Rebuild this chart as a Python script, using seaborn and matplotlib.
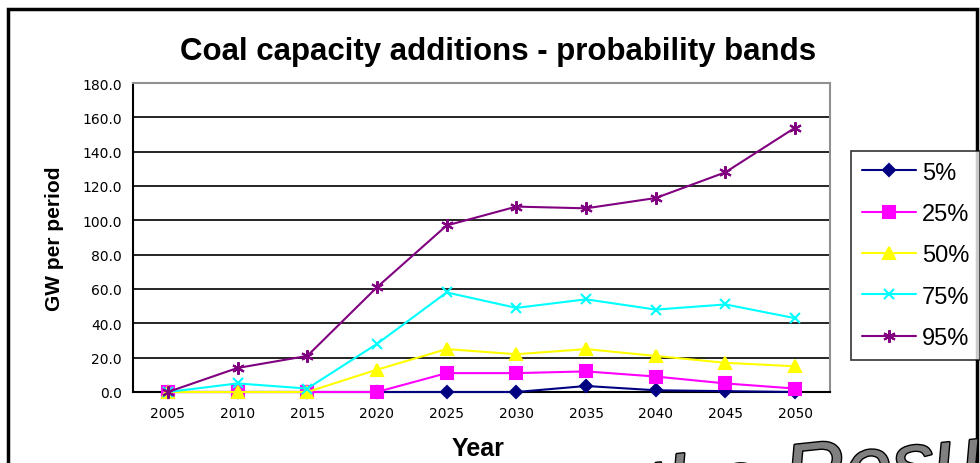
import numpy as np
import pandas as pd
import matplotlib.pyplot as plt
import matplotlib.patheffects as pe
from matplotlib.patches import Rectangle
import seaborn as sns

# Dados
years = ['2005', '2010', '2015', '2020', '2025', '2030', '2035', '2040', '2045', '2050']
p5 = [0, 0, 0, 0, 0, 0, 3.5, 1, 0.5, 0]
p25 = [0, 0, 0, 0, 11, 11, 12, 9, 5, 2]
p50 = [0, 0, 0, 13, 25, 22, 25, 21, 17, 15]
p75 = [0, 5, 2, 28, 58, 49, 54, 48, 51, 43]
p95 = [0, 14, 21, 61, 97, 108, 107, 113, 128, 154]
band_names = ['5%', '25%', '50%', '75%', '95%']
yticks = np.arange(0, 181, 20)

series = {'5%': p5, '25%': p25, '50%': p50, '75%': p75, '95%': p95}
rows = []
for name in band_names:
    for i, v in enumerate(series[name]):
        rows.append({'pos': i, 'value': v, 'band': name})
df = pd.DataFrame(rows)

colors = {'5%': '#000080', '25%': '#FF00FF', '50%': '#FFFF00', '75%': '#00FFFF', '95%': '#800080'}
markers = {'5%': 'D', '25%': 's', '50%': '^', '75%': 'x', '95%': (6, 2, 0)}
msizes = {'5%': 6, '25%': 8, '50%': 8, '75%': 7, '95%': 9}

sns.set_style('white')
plt.rcParams['font.family'] = ['Liberation Sans', 'DejaVu Sans']
for key in ['text.color', 'axes.labelcolor', 'xtick.color', 'ytick.color']:
    plt.rcParams[key] = 'black'

fig = plt.figure(figsize=(9.8, 4.64), dpi=100)
ax = fig.add_axes([133 / 980, 1 - 393 / 464, (830 - 133) / 980, (393 - 84) / 464])

for name in band_names:
    sub = df[df['band'] == name]
    sns.lineplot(data=sub, x='pos', y='value', ax=ax, color=colors[name],
                 marker=markers[name], markersize=msizes[name],
                 markeredgecolor=colors[name], markeredgewidth=1.5,
                 linewidth=1.5, label=name, clip_on=False, zorder=3)

ax.set_xlim(-0.5, len(years) - 0.5)
ax.set_ylim(0, 180)
ax.set_yticks(yticks)
ax.set_yticklabels([f'{v:.1f}' for v in yticks], fontsize=10, family='DejaVu Sans')
ax.set_xticks(np.arange(len(years)))
ax.set_xticklabels(years, fontsize=10, family='DejaVu Sans')
ax.set_xticks(np.arange(len(years) + 1) - 0.5, minor=True)
ax.tick_params(axis='x', which='major', length=0, pad=10)
ax.tick_params(axis='x', which='minor', length=5, width=1.2, color='black', direction='out')
ax.tick_params(axis='y', length=5, width=1.2, color='black', direction='out', pad=3)
ax.grid(axis='y', color='black', linewidth=1.2, zorder=0)
ax.set_axisbelow(True)

for side in ['left', 'bottom']:
    ax.spines[side].set_color('black')
    ax.spines[side].set_linewidth(1.5)
for side in ['top', 'right']:
    ax.spines[side].set_color('#909090')
    ax.spines[side].set_linewidth(1.5)

ax.set_xlabel('Year', fontsize=18, fontweight='bold')
ax.xaxis.set_label_coords(0.495, -0.142)
ax.set_ylabel('GW per period', fontsize=15, fontweight='bold')
ax.yaxis.set_label_coords(-0.113, 0.5)
ax.yaxis.label.set_va('center')
fig.text(498 / 980, 1 - 52 / 464, 'Coal capacity additions - probability bands',
         fontsize=22.5, fontweight='bold', ha='center', va='center')

ax.legend_.remove()
handles, labels = ax.get_legend_handles_labels()
leg = fig.legend(handles, labels, loc='upper left', bbox_to_anchor=(851 / 980, 1 - 152 / 464),
                 fontsize=17, frameon=True, fancybox=False, edgecolor='black',
                 handlelength=2.3, labelspacing=0.82, borderpad=0.45, handletextpad=0.25,
                 borderaxespad=0)
leg.get_frame().set_linewidth(1.2)

# moldura da figura
fig.patches.append(Rectangle((8 / 980, -0.05), (977 - 8) / 980, 1.05 - 10 / 464,
                             transform=fig.transFigure, fill=False, edgecolor='black',
                             linewidth=2.5))

# texto sobreposto no canto inferior
fig.text(640 / 980, 1 - 520 / 464, 'the Results', fontsize=61, style='italic',
         color='#808080', ha='left', va='baseline', rotation=6,
         path_effects=[pe.withStroke(linewidth=2, foreground='black')])

plt.savefig('out.png', dpi=100)
